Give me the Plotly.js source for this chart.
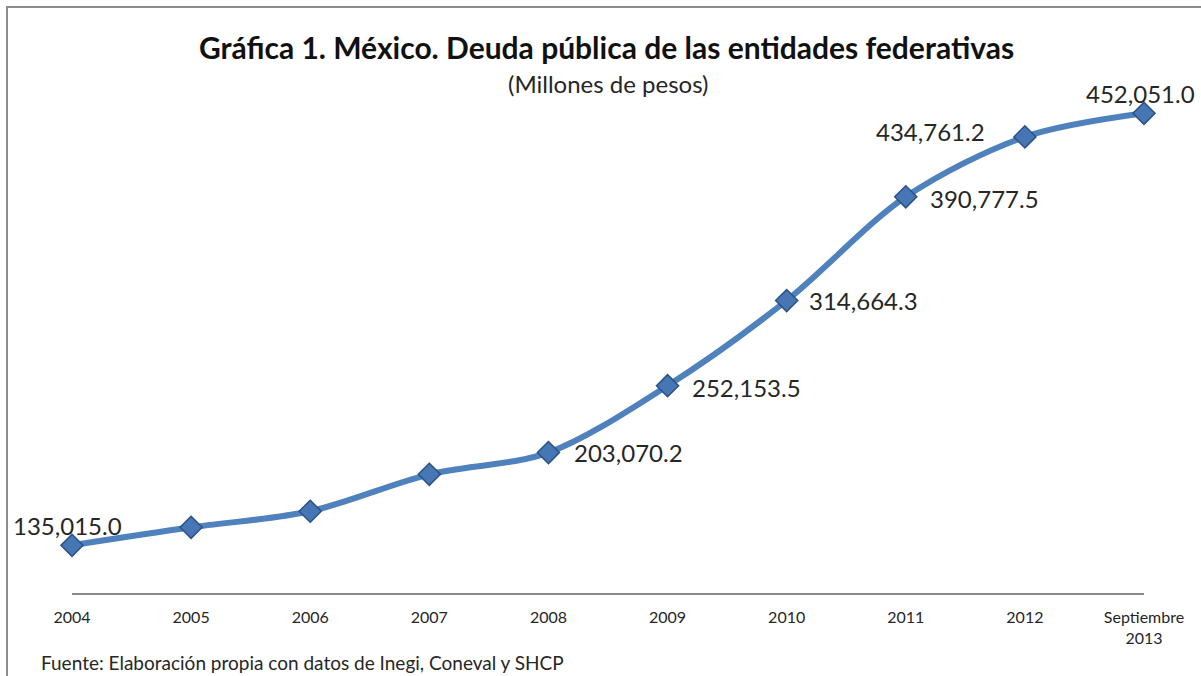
<!DOCTYPE html>
<html>
<head>
<meta charset="utf-8">
<script src="https://cdn.plot.ly/plotly-3.0.1.min.js"></script>
<style>
html,body{margin:0;padding:0;background:#fff;}
#frame{position:absolute;left:6px;top:6px;width:1210px;height:690px;border-left:2px solid #8c8c8c;border-top:2px solid #8c8c8c;}
#chart{position:absolute;left:0;top:0;width:1201px;height:676px;}
</style>
</head>
<body>
<div id="frame"></div>
<div id="chart"></div>
<script>
const categories = ["2004","2005","2006","2007","2008","2009","2010","2011","2012","Septiembre<br>2013"];
const deuda = [135015.0, 148200, 160000, 187100, 203070.2, 252153.5, 314664.3, 390777.5, 434761.2, 452051.0];
const labelText = ["135,015.0", "", "", "", "203,070.2", "252,153.5", "314,664.3", "390,777.5", "434,761.2", "452,051.0"];

const labelFont = {family: "Lato, 'Open Sans', sans-serif", size: 24, color: "#262626"};
// label placement per point: [xanchor, xshift, yshift]
const place = [
  ["center", -5, 20], null, null, null,
  ["left", 24, 0], ["left", 22, -2], ["left", 20, 0], ["left", 22, -2],
  ["right", -38, 5], ["center", -4, 20]
];
const annotations = [];
categories.forEach((c, i) => {
  if (!labelText[i]) return;
  const p = place[i];
  annotations.push({
    x: i, y: deuda[i], xref: "x", yref: "y",
    text: labelText[i], showarrow: false,
    xanchor: p[0], yanchor: "middle", xshift: p[1], yshift: p[2],
    font: labelFont
  });
});
annotations.push({
  xref: "paper", yref: "paper", x: 0.5, y: 1, yshift: -35, xanchor: "center", yanchor: "middle",
  text: "(Millones de pesos)", showarrow: false,
  font: {family: "Lato, 'Open Sans', sans-serif", size: 24, color: "#262626"}
});
annotations.push({
  xref: "paper", yref: "paper", x: -0.031, y: 0, yshift: -69, xanchor: "left", yanchor: "middle",
  text: "Fuente: Elaboración propia con datos de Inegi, Coneval y SHCP", showarrow: false,
  font: {family: "Lato, 'Open Sans', sans-serif", size: 19, color: "#262626"}
});

const trace = {
  x: categories, y: deuda, type: "scatter", mode: "lines+markers",
  cliponaxis: false,
  line: {shape: "spline", smoothing: 0.9, color: "#4F81BD", width: 6},
  marker: {symbol: "diamond", size: 17, color: "#4676B3", line: {color: "#2C5284", width: 1.5}},
  hoverinfo: "skip"
};

const layout = {
  width: 1201, height: 676,
  margin: {l: 72, r: 57, t: 48, b: 83},
  paper_bgcolor: "rgba(0,0,0,0)", plot_bgcolor: "rgba(0,0,0,0)",
  showlegend: false,
  title: {
    text: "<b>Gráfica 1. México. Deuda pública de las entidades federativas</b>",
    x: 0.505, xanchor: "center", y: 0.928, yanchor: "middle",
    font: {family: "Lato, 'Open Sans', sans-serif", size: 30, color: "#111"}
  },
  xaxis: {
    type: "category", range: [0, 9], showgrid: false, zeroline: false,
    showline: true, linecolor: "#8c8c8c", linewidth: 2, ticks: "",
    ticklabelstandoff: 9,
    tickfont: {family: "Lato, 'Open Sans', sans-serif", size: 16, color: "#262626"}
  },
  yaxis: {
    range: [100000, 500000], showgrid: false, zeroline: false,
    showline: false, showticklabels: false, ticks: ""
  },
  annotations: annotations
};

Plotly.newPlot("chart", [trace], layout, {displayModeBar: false, staticPlot: true});
</script>
</body>
</html>
